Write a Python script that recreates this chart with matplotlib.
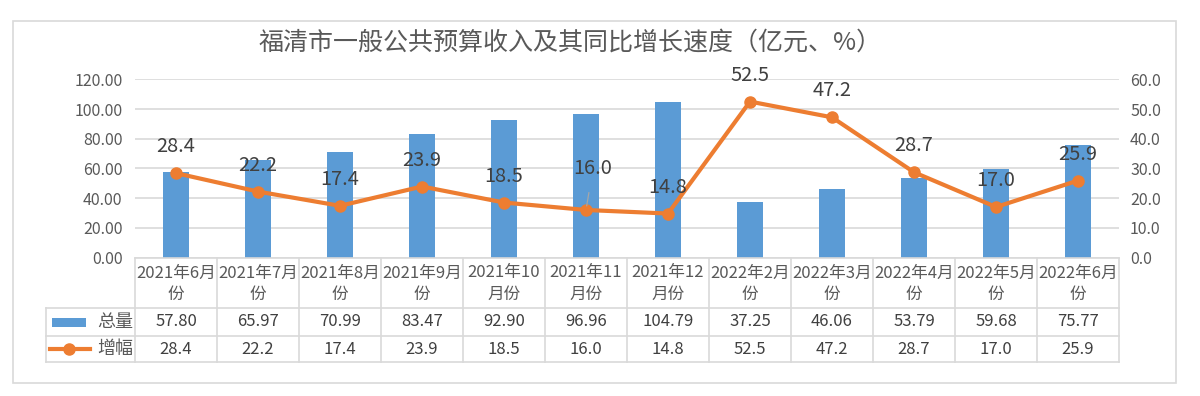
import numpy as np
import matplotlib
matplotlib.use("Agg")
import matplotlib.pyplot as plt
import matplotlib.transforms as mtransforms
from matplotlib.lines import Line2D
from matplotlib.patches import Rectangle

plt.rcParams['font.family'] = ['Noto Sans CJK SC', 'DejaVu Sans']

# data
categories = ['2021年6月\n份', '2021年7月\n份', '2021年8月\n份', '2021年9月\n份',
              '2021年10\n月份', '2021年11\n月份', '2021年12\n月份', '2022年2月\n份',
              '2022年3月\n份', '2022年4月\n份', '2022年5月\n份', '2022年6月\n份']
total = [57.80, 65.97, 70.99, 83.47, 92.90, 96.96, 104.79, 37.25, 46.06, 53.79, 59.68, 75.77]
growth = [28.4, 22.2, 17.4, 23.9, 18.5, 16.0, 14.8, 52.5, 47.2, 28.7, 17.0, 25.9]
title = '福清市一般公共预算收入及其同比增长速度（亿元、%）'

W, H = 1200, 396
BLUE = '#5B9BD5'
ORANGE = '#ED7D31'
GRID = '#D9D9D9'
TXT = '#595959'
DARK = '#404040'

fig = plt.figure(figsize=(W / 100, H / 100), dpi=100)
# pixel coords, origin top-left
px = mtransforms.Affine2D().scale(1 / W, -1 / H).translate(0, 1) + fig.transFigure

left, right, top, bottom = 135, 1119, 79.3, 257.5
ax = fig.add_axes([left / W, 1 - bottom / H, (right - left) / W, (bottom - top) / H])
ax2 = ax.twinx()

x = np.arange(len(categories))
ax.bar(x, total, width=0.32, color=BLUE, zorder=2)
ax.set_xlim(-0.5, len(categories) - 0.5)
ax.set_ylim(0, 120)
ax.set_yticks(np.arange(0, 121, 20))
ax.set_yticklabels([f'{v:.2f}' for v in np.arange(0, 121, 20)])
ax.yaxis.grid(True, color=GRID, linewidth=1.2, zorder=0)
ax.set_axisbelow(True)
ax.set_xticks([])
ax.tick_params(axis='y', length=0, pad=9, labelsize=11.5, labelcolor=TXT)
for s in ax.spines.values():
    s.set_visible(False)

ax2.plot(x, growth, color=ORANGE, linewidth=3, marker='o', markersize=8, zorder=3)
ax2.set_ylim(0, 60)
ax2.set_yticks(np.arange(0, 61, 10))
ax2.set_yticklabels([f'{v:.1f}' for v in np.arange(0, 61, 10)])
ax2.tick_params(axis='y', length=0, pad=8, labelsize=11.5, labelcolor=TXT)
for s in ax2.spines.values():
    s.set_visible(False)

for i, v in enumerate(growth):
    if i == 5:
        ax2.annotate(f'{v:.1f}', (i, v), xytext=(5, 30), textcoords='offset points',
                     ha='center', va='center', fontsize=14.4, color=DARK,
                     arrowprops=dict(arrowstyle='-', color='#A6A6A6', lw=0.9,
                                     shrinkA=8, shrinkB=3))
    else:
        ax2.annotate(f'{v:.1f}', (i, v), xytext=(0, 19), textcoords='offset points',
                     ha='center', va='center', fontsize=14.4, color=DARK)

# title
fig.text(570 / W, 1 - 43 / H, title, ha='center', va='center', fontsize=18, color=TXT)

# outer border
fig.add_artist(Rectangle((13, 21), 1163, 362, transform=px, fill=False,
                         edgecolor=GRID, linewidth=1.2))

# data table under the plot
bt = mtransforms.blended_transform_factory(ax.transData, px)
row_y = [bottom, 308, 336, 362]
label_left = 46
for yy in row_y[1:]:
    fig.add_artist(Line2D([label_left, right], [yy, yy], transform=px, color=GRID, lw=1.2))
fig.add_artist(Line2D([left, right], [bottom, bottom], transform=px, color=GRID, lw=1.2))
for i in range(len(categories) + 1):
    fig.add_artist(Line2D([i - 0.5, i - 0.5], [bottom, row_y[-1]], transform=bt,
                          color=GRID, lw=1.2))
fig.add_artist(Line2D([label_left, label_left], [row_y[1], row_y[-1]], transform=px,
                      color=GRID, lw=1.2))

for i, cat in enumerate(categories):
    l1, l2 = cat.split('\n')
    fig.text(i, 273, l1, transform=bt, ha='center', va='center', fontsize=12, color=TXT)
    fig.text(i, 294, l2, transform=bt, ha='center', va='center', fontsize=12, color=TXT)
    fig.text(i, 322, f'{total[i]:.2f}', transform=bt, ha='center', va='center',
             fontsize=12, color=DARK)
    fig.text(i, 349, f'{growth[i]:.1f}', transform=bt, ha='center', va='center',
             fontsize=12, color=DARK)

# legend keys in row headers
fig.add_artist(Rectangle((52, 318), 34, 9, transform=px, facecolor=BLUE, edgecolor='none'))
fig.text(97, 322, '总量', transform=px, ha='left', va='center', fontsize=13, color=TXT)
fig.add_artist(Line2D([50, 90], [349, 349], transform=px, color=ORANGE, lw=3))
fig.add_artist(Line2D([69], [349], transform=px, color=ORANGE, marker='o', markersize=8))
fig.text(97, 349, '增幅', transform=px, ha='left', va='center', fontsize=13, color=TXT)

fig.savefig('out.png', dpi=100)
